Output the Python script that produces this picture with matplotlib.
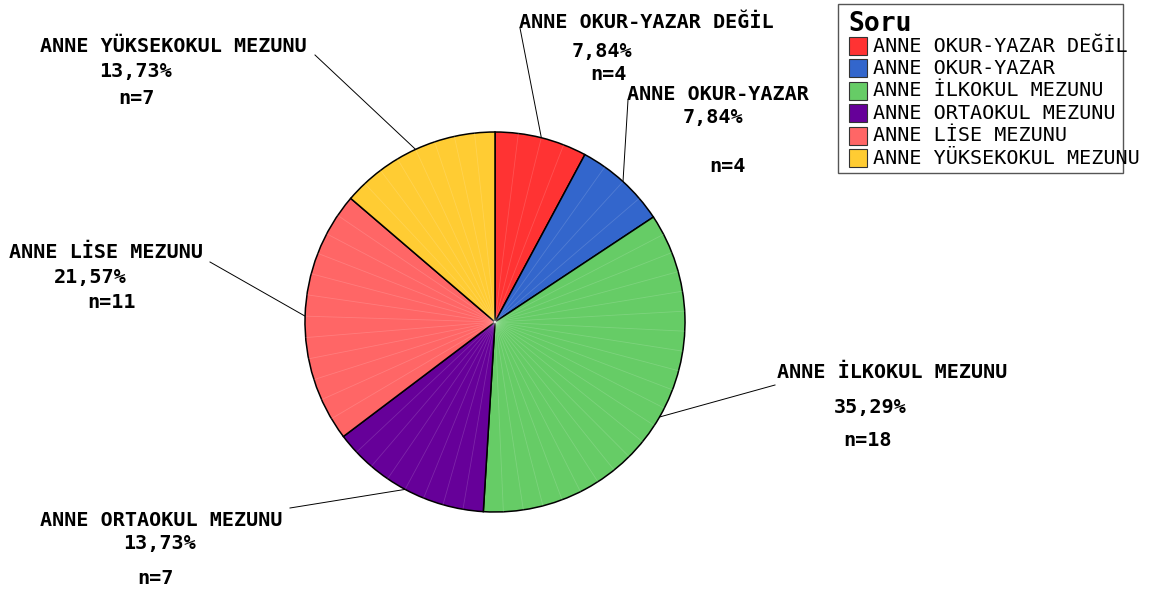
import numpy as np
import matplotlib
matplotlib.use("Agg")
import matplotlib.pyplot as plt
from matplotlib.patches import Rectangle

categories = ["ANNE OKUR-YAZAR DEĞİL", "ANNE OKUR-YAZAR", "ANNE İLKOKUL MEZUNU",
              "ANNE ORTAOKUL MEZUNU", "ANNE LİSE MEZUNU", "ANNE YÜKSEKOKUL MEZUNU"]
counts = [4, 4, 18, 7, 11, 7]
percent_labels = ["7,84%", "7,84%", "35,29%", "13,73%", "21,57%", "13,73%"]
colors = ["#FF3333", "#3366CC", "#66CC66", "#660099", "#FF6666", "#FFCC33"]
legend_title = "Soru"

W, H = 1151, 592
fig = plt.figure(figsize=(W / 100, H / 100), dpi=100)
ax = fig.add_axes([0, 0, 1, 1])
ax.set_xlim(0, W)
ax.set_ylim(0, H)
ax.set_aspect("equal")
ax.axis("off")

def Y(y):
    return H - y

cx, cy, R = 495, Y(322), 190
wedges, _ = ax.pie(counts, colors=colors, startangle=90, counterclock=False,
                   center=(cx, cy), radius=R, frame=True,
                   wedgeprops=dict(edgecolor="black", linewidth=1.1))
ax.set_xlim(0, W)
ax.set_ylim(0, H)
ax.axis("off")

# faint facet lines inside wedges
for w in wedges:
    t1, t2 = w.theta1, w.theta2
    n = max(int((t2 - t1) / 6), 1)
    for a in np.linspace(t1, t2, n + 1)[1:-1]:
        r = np.deg2rad(a)
        ax.plot([cx, cx + R * np.cos(r)], [cy, cy + R * np.sin(r)],
                color="white", alpha=0.15, lw=0.6, zorder=3)

mono = "DejaVu Sans Mono"
fs = 14.5

# label layout: (line end point, [(x, y) for name, pct, n])
layout = [
    ((520, 28), [(646, 22), (602, 52), (608, 75)]),
    ((628, 100), [(718, 95), (713, 118), (727, 166)]),
    ((775, 385), [(892, 373), (870, 407), (868, 440)]),
    ((290, 508), [(161, 521), (160, 543), (155, 578)]),
    ((210, 262), [(106, 253), (90, 277), (112, 302)]),
    ((315, 55), [(173, 47), (136, 72), (136, 98)]),
]

for i, w in enumerate(wedges):
    mid = np.deg2rad((w.theta1 + w.theta2) / 2)
    sx, sy = cx + R * np.cos(mid), cy + R * np.sin(mid)
    (ex, ey), pos = layout[i]
    ax.plot([sx, ex], [sy, Y(ey)], color="black", lw=0.7, zorder=4)
    texts = [categories[i], percent_labels[i], f"n={counts[i]}"]
    for (tx, ty), t in zip(pos, texts):
        ax.text(tx, Y(ty), t, ha="center", va="center", family=mono,
                fontweight="bold", fontsize=fs, color="black")

# legend
ax.add_patch(Rectangle((838, Y(173)), 1123 - 838, 169, facecolor="white",
                       edgecolor="#555555", lw=1.0, zorder=5))
ax.text(848, Y(24), legend_title, ha="left", va="center", family=mono,
        fontweight="bold", fontsize=19, zorder=6)
for i, (c, name) in enumerate(zip(colors, categories)):
    yy = 46 + i * 22.4
    ax.add_patch(Rectangle((849, Y(yy + 9)), 18, 18, facecolor=c,
                           edgecolor="#333333", lw=0.8, zorder=6))
    ax.text(873, Y(yy), name, ha="left", va="center", family=mono,
            fontsize=14.5, zorder=6)

fig.savefig("out.png", dpi=100)
